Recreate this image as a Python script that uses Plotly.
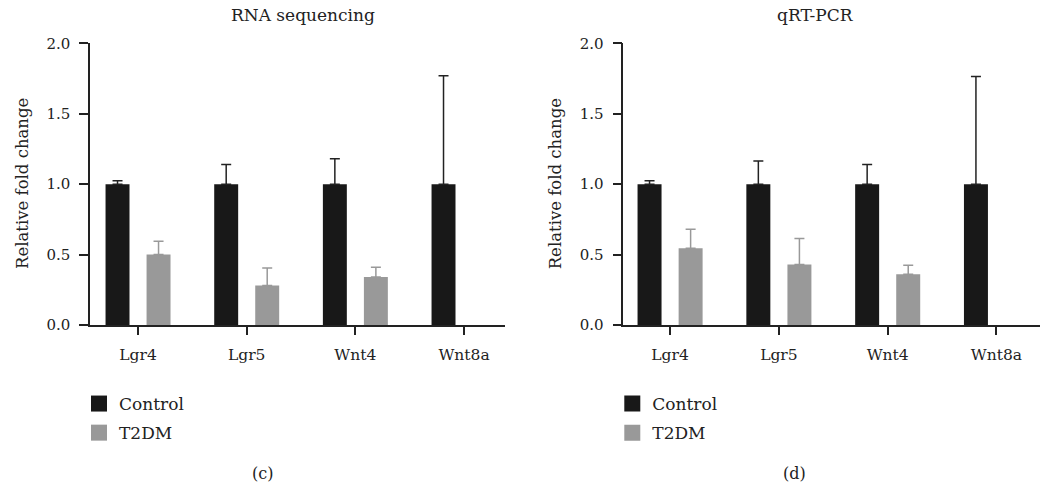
import plotly.graph_objects as go

genes = ["Lgr4", "Lgr5", "Wnt4", "Wnt8a"]

# Panel (c): RNA sequencing
rna_control = [1.0, 1.0, 1.0, 1.0]
rna_control_err = [0.025, 0.14, 0.18, 0.77]
rna_t2dm = [0.50, 0.28, 0.34, None]   # Wnt8a not detected in T2DM
rna_t2dm_err = [0.095, 0.125, 0.07, None]

# Panel (d): qRT-PCR
pcr_control = [1.0, 1.0, 1.0, 1.0]
pcr_control_err = [0.025, 0.165, 0.14, 0.765]
pcr_t2dm = [0.545, 0.43, 0.36, None]  # Wnt8a not detected in T2DM
pcr_t2dm_err = [0.135, 0.185, 0.065, None]

y_ticks = [0.0, 0.5, 1.0, 1.5, 2.0]
y_tick_text = ["0.0", "0.5", "1.0", "1.5", "2.0"]

FONT = "DejaVu Serif"
INK = "#222222"
DARK = "#181818"
GREY = "#999999"
FS = 15

fig = go.Figure()

def add_panel(xa, ya, leg, ctrl, ctrl_err, t2, t2_err):
    minus_c = [0 if v is not None else None for v in ctrl_err]
    minus_t = [0 if v is not None else None for v in t2_err]
    fig.add_trace(go.Bar(
        x=genes, y=ctrl, name="Control", xaxis=xa, yaxis=ya, showlegend=False,
        marker=dict(color=DARK, line=dict(width=0)),
        error_y=dict(type="data", symmetric=False, array=ctrl_err,
                     arrayminus=minus_c, color=INK, thickness=1.5, width=5)))
    fig.add_trace(go.Bar(
        x=genes, y=t2, name="T2DM", xaxis=xa, yaxis=ya, showlegend=False,
        marker=dict(color=GREY, line=dict(width=0)),
        error_y=dict(type="data", symmetric=False, array=t2_err,
                     arrayminus=minus_t, color=GREY, thickness=1.5, width=5)))
    # legend entries
    for nm, col in (("Control", DARK), ("T2DM", GREY)):
        fig.add_trace(go.Scatter(
            x=[None], y=[None], mode="markers", name=nm, xaxis=xa, yaxis=ya,
            legend=leg, legendgroup=leg + nm,
            marker=dict(symbol="square", size=16, color=col, line=dict(width=0))))

add_panel("x", "y", "legend", rna_control, rna_control_err, rna_t2dm, rna_t2dm_err)
add_panel("x2", "y2", "legend2", pcr_control, pcr_control_err, pcr_t2dm, pcr_t2dm_err)

axis_font = dict(family=FONT, size=FS, color=INK)

xcommon = dict(type="category", showline=True, linecolor=INK, linewidth=1.5,
               ticks="outside", ticklen=8, tickwidth=1.5, tickcolor=INK,
               tickfont=dict(family=FONT, size=15.5, color=INK), showgrid=False, zeroline=False,
               ticklabelstandoff=7, fixedrange=True)
ycommon = dict(range=[0, 2.0], tickvals=y_ticks, ticktext=y_tick_text,
               showline=True, linecolor=INK, linewidth=1.5,
               ticks="outside", ticklen=9, tickwidth=1.5, tickcolor=INK,
               tickfont=axis_font, showgrid=False, zeroline=False,
               ticklabelstandoff=6, fixedrange=True)

W, H = 1040, 490
ydom = [(H - 325) / H, (H - 43.3) / H]
leg_font = dict(family=FONT, size=17, color=INK)

fig.update_layout(
    width=W, height=H,
    margin=dict(l=0, r=0, t=0, b=0, autoexpand=False),
    paper_bgcolor="white", plot_bgcolor="white",
    barmode="group", bargap=0.245, bargroupgap=0.416,
    font=dict(family=FONT, size=FS, color=INK),
    xaxis=dict(domain=[90 / W, 505 / W], range=[-0.442, 3.377], anchor="y", **xcommon),
    yaxis=dict(domain=ydom, anchor="x", **ycommon),
    xaxis2=dict(domain=[623.3 / W, 1.0], range=[-0.43, 3.40], anchor="y2", **xcommon),
    yaxis2=dict(domain=ydom, anchor="x2", **ycommon),
    legend=dict(x=79 / W, y=(H - 386) / H, xanchor="left", yanchor="top",
                font=leg_font, itemsizing="trace",
                bgcolor="rgba(0,0,0,0)", tracegroupgap=4, itemclick=False),
    legend2=dict(x=(79 + 533.3) / W, y=(H - 386) / H, xanchor="left", yanchor="top",
                 font=leg_font, itemsizing="trace",
                 bgcolor="rgba(0,0,0,0)", tracegroupgap=4, itemclick=False),
    annotations=[
        dict(text="RNA sequencing", x=303 / W, y=(H - 15) / H, xref="paper", yref="paper",
             showarrow=False, font=dict(family=FONT, size=17, color=INK),
             xanchor="center", yanchor="middle"),
        dict(text="qRT-PCR", x=815.5 / W, y=(H - 15) / H, xref="paper", yref="paper",
             showarrow=False, font=dict(family=FONT, size=17, color=INK),
             xanchor="center", yanchor="middle"),
        dict(text="Relative fold change", x=23 / W, y=(H - 184) / H, xref="paper", yref="paper",
             showarrow=False, textangle=-90, font=dict(family=FONT, size=16.5, color=INK),
             xanchor="center", yanchor="middle"),
        dict(text="Relative fold change", x=(23 + 533.3) / W, y=(H - 184) / H, xref="paper", yref="paper",
             showarrow=False, textangle=-90, font=dict(family=FONT, size=16.5, color=INK),
             xanchor="center", yanchor="middle"),
        dict(text="(c)", x=262 / W, y=(H - 473) / H, xref="paper", yref="paper",
             showarrow=False, font=dict(family=FONT, size=16, color=INK),
             xanchor="center", yanchor="middle"),
        dict(text="(d)", x=794 / W, y=(H - 473) / H, xref="paper", yref="paper",
             showarrow=False, font=dict(family=FONT, size=16, color=INK),
             xanchor="center", yanchor="middle"),
    ],
)

fig.write_html("out.html")
